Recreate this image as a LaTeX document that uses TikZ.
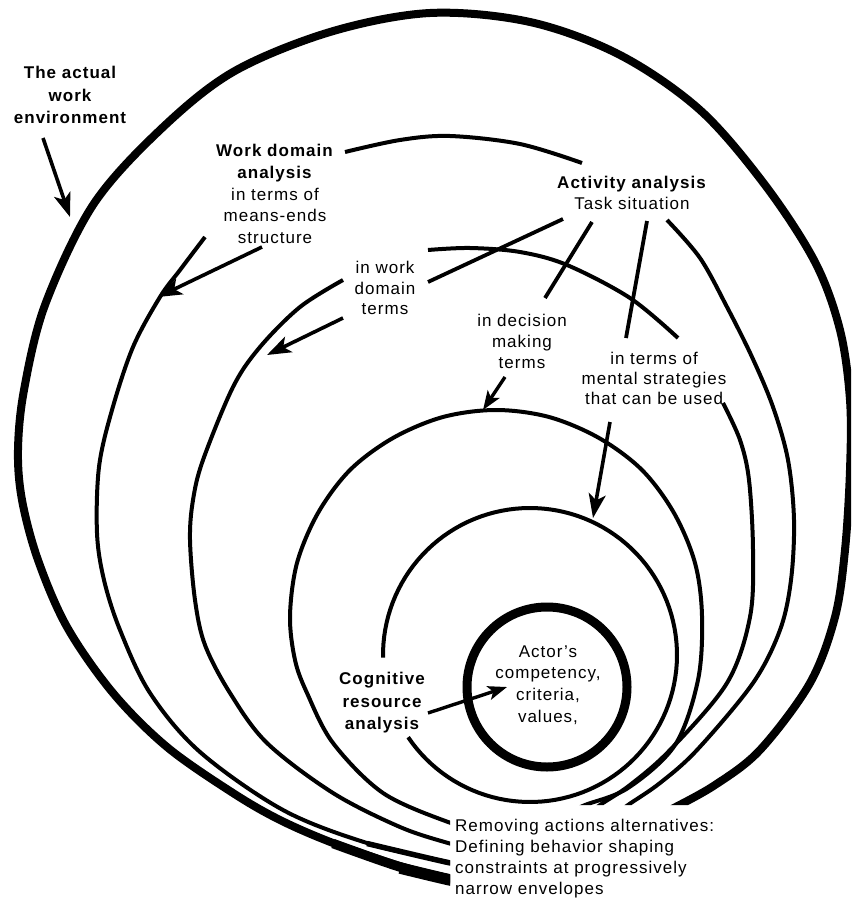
\documentclass[tikz,border=0pt]{standalone}
\usepackage{fontspec}
\setmainfont{Liberation Sans}[LetterSpace=6]
\usetikzlibrary{arrows.meta}
\begin{document}
\begin{tikzpicture}[x=1pt,y=-1pt,
  txt/.style={font=\fontsize{17}{21.7}\selectfont, align=center, inner sep=0pt},
  curve/.style={line width=4pt, line join=round},
  link/.style={line width=3.8pt},
  arr/.style={line width=3.6pt, -{Stealth[length=24pt,width=17pt,inset=6pt]}},
  sarr/.style={line width=3.4pt, -{Stealth[length=19pt,width=14pt,inset=4.5pt]}}
]
\useasboundingbox (0,0) rectangle (851,899);

% ---------- envelopes (clipped by the text block at bottom right)
\begin{scope}
\clip (0,0) -- (851,0) -- (851,805) -- (450,805) -- (450,899) -- (0,899) -- cycle;
% A: actual work environment
\draw[curve, line width=8pt] plot[smooth, tension=0.55] coordinates {
 (470,882) (448,878) (400,866) (333,843) (280,820) (233,793) (167,747) (113,693)
 (67,627) (38,560) (22,500) (18,450) (24,390) (45,305) (93,205) (160,130)
 (233,72) (330,32) (430,13) (530,22) (620,55) (700,110) (765,185) (815,262)
 (840,330) (850,400) (850,470) (845,550) (835,617) (810,683) (760,750)
 (715,785) (670,810) (650,820)};
\draw[line width=9.5pt] plot[smooth, tension=0.55] coordinates {(333,843.5) (400,867) (448,879) (470,883)};
\draw[line width=11.5pt] plot[smooth, tension=0.55] coordinates {(400,868) (448,879.5) (470,883.5)};
% B: work domain
\draw[curve] plot[smooth, tension=0.55] coordinates {
 (205,237) (180,270) (160,297) (133,347) (112,410) (99,467) (97,533) (104,580)
 (120,630) (150,693) (200,752) (283,810) (367,843) (448,862) (470,865)};
\draw[line width=5.5pt] plot[smooth, tension=0.55] coordinates {(367,843.5) (448,862.5) (470,865.5)};
\draw[curve] plot[smooth, tension=0.55] coordinates {
 (345,152) (400,140) (450,136) (520,144) (582,163)};
\draw[curve] plot[smooth, tension=0.55] coordinates {
 (667,220) (700,258) (727,307) (752,357) (773,407) (788,460) (794,520)
 (791,580) (780,630) (753,683) (697,750) (660,783) (628,805) (615,815)};
% C: activity / work domain terms
\draw[curve] plot[smooth, tension=0.55] coordinates {
 (343,280) (300,307) (260,347) (233,387) (203,460) (193,500) (190,540)
 (195,600) (205,645) (230,693) (267,743) (333,793) (400,827) (448,843) (470,848)};
\draw[curve] plot[smooth, tension=0.55] coordinates {
 (428,250) (470,248) (520,252) (567,265) (630,298) (678,338)};
\draw[curve] plot[smooth, tension=0.55] coordinates {
 (723,403) (740,440) (749,480) (753,550) (750,617) (727,683) (670,750)
 (630,785) (600,805) (588,815)};
% D: decision making
\draw[curve] plot[smooth, tension=0.55] coordinates {
 (470,826) (448,822) (383,793) (333,743) (307,693) (295,660) (290,616)
 (297,563) (318,513) (350,470) (393,438) (443,417) (496,410) (549,417)
 (599,438) (642,470) (674,513) (695,563) (702,616) (698,680) (675,745)
 (628,788) (585,805) (570,812)};
% E: mental strategies
\draw[curve] plot[domain=-146:181, samples=120] ({530+147*cos(\x)},{655-147*sin(\x)});
\end{scope}

% ---------- innermost envelope with actor
\node[circle, draw, line width=9pt, minimum size=160pt, inner sep=0pt] (core) at (547,687) {};
\node[txt] (actor) at (548,685) {Actor’s\\competency,\\criteria,\\values,};

% ---------- labels
\node[txt, font=\fontsize{17}{22.5}\selectfont\bfseries] (env) at (70,95) {The actual\\work\\environment};
\node[txt] (wda) at (275,194) {\textbf{Work domain}\\\textbf{analysis}\\in terms of\\means-ends\\structure};
\node[txt, font=\fontsize{17}{21}\selectfont] (act) at (632,193) {\textbf{Activity analysis}\\Task situation};
\node[txt, font=\fontsize{17}{20.5}\selectfont] (iwdt) at (385,288) {in work\\domain\\terms};
\node[txt, font=\fontsize{17}{21}\selectfont] (idmt) at (522,341) {in decision\\making\\terms};
\node[txt, font=\fontsize{17}{20}\selectfont] (itms) at (654,378) {in terms of\\mental strategies\\that can be used};
\node[txt, font=\fontsize{17}{22.5}\selectfont\bfseries] (cra) at (382,703) {Cognitive\\resource\\analysis};
\node[txt, font=\fontsize{17}{21}\selectfont, align=left, anchor=west] (rem) at (455,859)
 {Removing actions alternatives:\\Defining behavior shaping\\constraints at progressively\\narrow envelopes};

% ---------- connector end points
\coordinate (a1s) at (43,138);  \coordinate (a1e) at (70,217);
\coordinate (a2s) at (262,247); \coordinate (a2e) at (158,297);
\coordinate (a3s) at (343,318); \coordinate (a3e) at (267,355);
\coordinate (a4s) at (505,377); \coordinate (a4e) at (483,410);
\coordinate (a5s) at (610,422); \coordinate (a5e) at (593,518);
\coordinate (a6s) at (428,713); \coordinate (a6e) at (507,687);
\coordinate (l1s) at (563,219); \coordinate (l1e) at (428,282);
\coordinate (l2s) at (592,222); \coordinate (l2e) at (545,298);
\coordinate (l3s) at (647,221); \coordinate (l3e) at (626,338);

% ---------- connectors
\draw[arr] (a1s) -- (a1e);
\draw[arr] (a2s) -- (a2e);
\draw[arr] (a3s) -- (a3e);
\draw[sarr] (a4s) -- (a4e);
\draw[arr] (a5s) -- (a5e);
\draw[sarr] (a6s) -- (a6e);
\draw[link] (l1s) -- (l1e);
\draw[link] (l2s) -- (l2e);
\draw[link] (l3s) -- (l3e);
\end{tikzpicture}
\end{document}
